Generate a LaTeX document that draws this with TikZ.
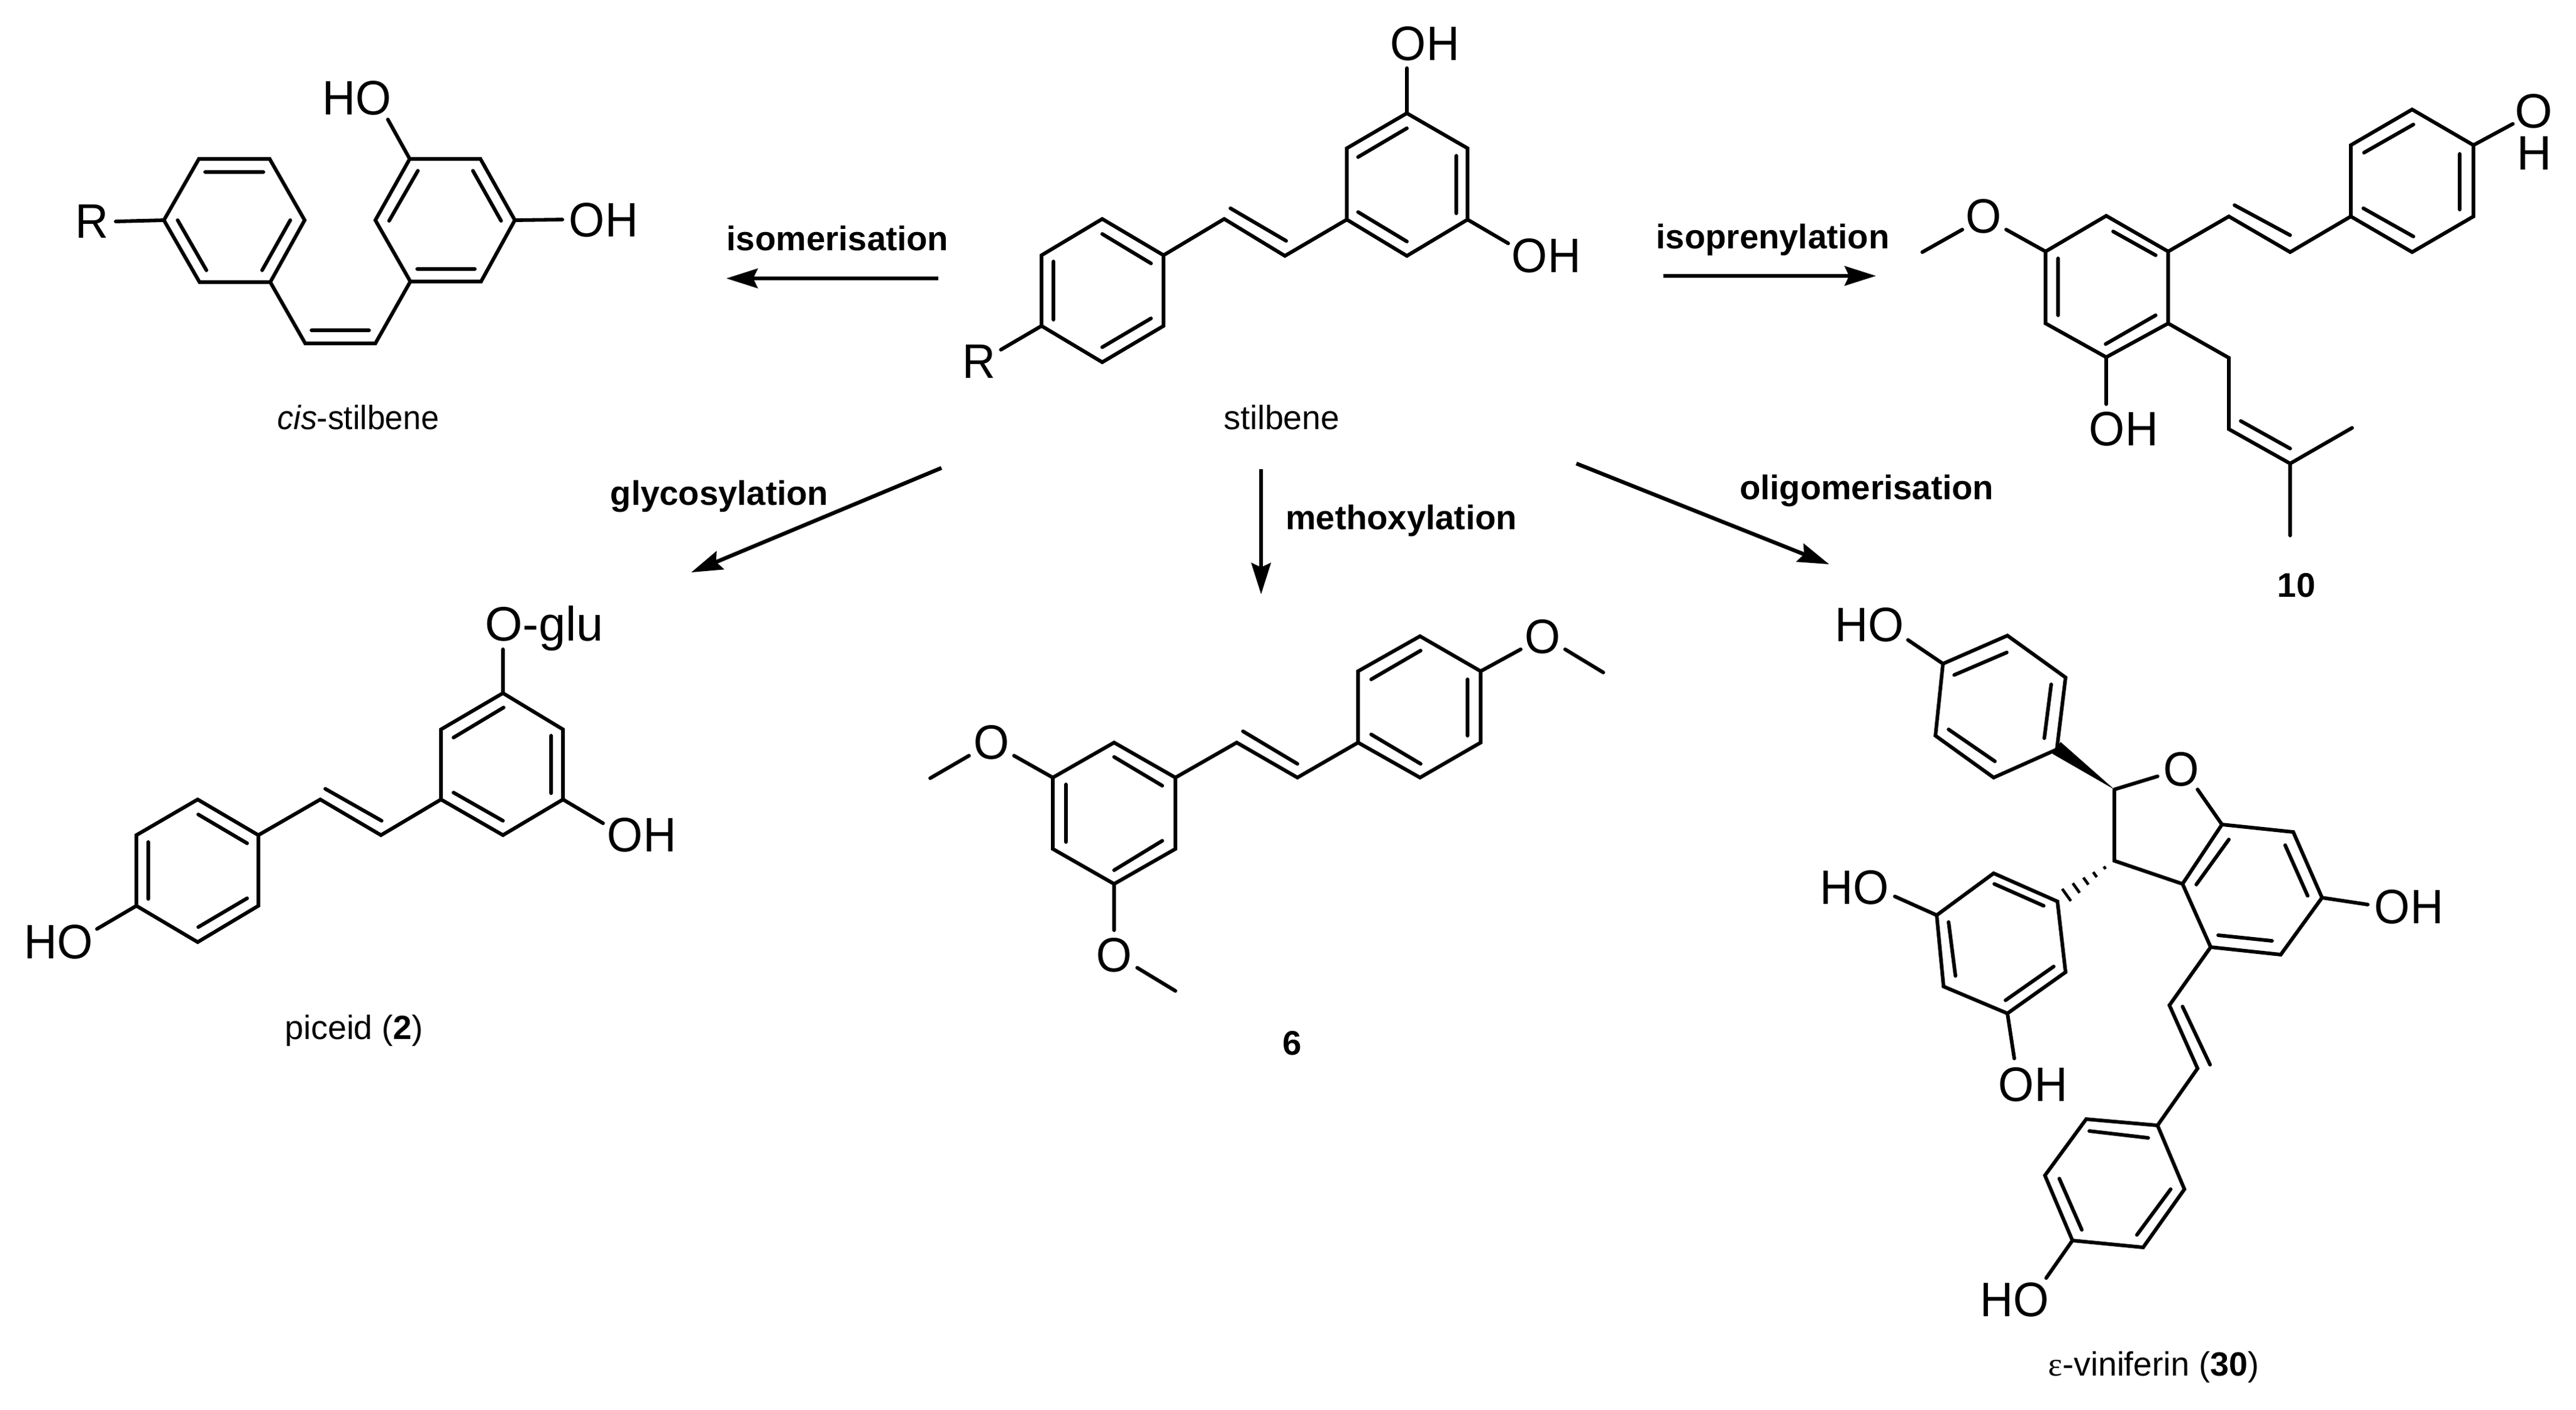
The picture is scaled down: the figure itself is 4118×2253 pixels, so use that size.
\documentclass[tikz,border=0pt]{standalone}
\usepackage{fontspec}
\setmainfont{Liberation Sans}
\newfontfamily\serifgreek{Liberation Serif}
\usetikzlibrary{arrows.meta,calc}
\newcommand{\Atm}[1]{\scalebox{0.95}[1]{#1}}
\tikzset{
  bond/.style={line width=0.058cm,line join=miter,line cap=round},
  atom/.style={inner sep=0pt,font=\fontsize{22}{19}\selectfont},
  caption/.style={inner sep=0pt,font=\fontsize{15.3}{18}\selectfont},
  rxn/.style={inner sep=0pt,font=\fontsize{15.5}{18}\selectfont\bfseries},
  rxnarrow/.style={line width=0.062cm,-{Stealth[length=0.5cm,width=0.31cm,inset=0.07cm]}},
  hashbond/.style={line width=0.045cm}
}
\begin{document}
\begin{tikzpicture}[x=0.01cm,y=-0.01cm]
\useasboundingbox (0,0) rectangle (4118,2253);
% ---- cis-stilbene
\draw[bond] (262,352)--(318,254)--(431,254)--(487,352)--(432,451)--(319,451)--cycle;
\draw[bond] (328,275)--(421,275) (284,352)--(330,432) (464,352)--(419,432);
\draw[bond] (600,352)--(655,254)--(768,254)--(823,352)--(769,450)--(656,450)--cycle;
\draw[bond] (668,273)--(622,353) (756,273)--(801,353) (667,430)--(759,430);
\draw[bond] (432,451)--(488,549)--(600,549)--(656,450) (498,528)--(590,528);
\draw[bond] (262,352)--(185,354) (655,254)--(620,191) (823,352)--(899,351);
\node[atom] (cisR) at (147,354) {\Atm{R}};
\node[atom] (cisHO) at (571,157) {\Atm{HO}};
\node[atom] (cisOH) at (965,352) {\Atm{OH}};
\node[caption] (cisname) at (573,667) {\scalebox{0.96}[1]{\textit{cis}-stilbene}};
% ---- stilbene
\draw[bond] (1762,350)--(1860,408)--(1860,521)--(1762,579)--(1665,521)--(1665,408)--cycle;
\draw[bond] (1762,374)--(1840,421) (1684,418)--(1684,511) (1762,555)--(1840,509);
\draw[bond] (1665,521)--(1600,559);
\draw[bond] (1860,408)--(1957,350)--(2054,409)--(2153,351) (1967,333)--(2056,385);
\draw[bond] (2153,351)--(2153,237)--(2249,181)--(2346,237)--(2346,351)--(2249,409)--cycle;
\draw[bond] (2171,251)--(2249,205) (2328,249)--(2328,341) (2171,339)--(2249,386);
\draw[bond] (2249,181)--(2249,109) (2346,351)--(2411,389);
\node[atom] (stR) at (1565,578) {\Atm{R}};
\node[atom] (stOHa) at (2278,70) {\Atm{OH}};
\node[atom] (stOHb) at (2472,409) {\Atm{OH}};
\node[caption] (stname) at (2049,667) {stilbene};
% ---- compound 10
\draw[bond] (3856,175)--(3954,232)--(3954,346)--(3856,403)--(3758,346)--(3758,232)--cycle;
\draw[bond] (3858,199)--(3779,244) (3932,246)--(3932,335) (3778,333)--(3858,378);
\draw[bond] (3954,232)--(4017,198);
\node[atom,align=center] (tenOH2) at (4051,211) {O\\H};
\draw[bond] (3758,346)--(3661,403)--(3563,346)--(3466,402) (3661,376)--(3572,328);
\draw[bond] (3466,402)--(3367,345)--(3270,402)--(3270,517)--(3367,571)--(3466,517)--cycle;
\draw[bond] (3378,370)--(3446,408) (3290,413)--(3290,504) (3366,550)--(3446,504);
\draw[bond] (3270,402)--(3207,367) (3137,367)--(3073,403);
\node[atom] (tenOMe) at (3171,346) {\Atm{O}};
\draw[bond] (3367,571)--(3367,646);
\node[atom] (tenOH) at (3395,686) {\Atm{OH}};
\draw[bond] (3466,517)--(3563,572)--(3563,686)--(3661,741)--(3760,684) (3661,741)--(3661,856) (3582,673)--(3661,717);
\node[rxn] (tenname) at (3671,936) {10};
% ---- piceid
\draw[bond] (804,1108)--(900,1166)--(900,1278)--(804,1335)--(705,1278)--(705,1166)--cycle;
\draw[bond] (805,1131)--(725,1179) (881,1176)--(881,1268) (725,1267)--(804,1312);
\draw[bond] (804,1108)--(804,1038) (900,1278)--(964,1316);
\node[atom,anchor=base west] (piOglu) at (775,1024) {O-glu};
\node[atom] (piOH) at (1026,1335) {\Atm{OH}};
\draw[bond] (705,1278)--(609,1335)--(512,1278)--(413,1335) (610,1312)--(520,1261);
\draw[bond] (413,1335)--(413,1448)--(316,1506)--(218,1448)--(218,1335)--(316,1278)--cycle;
\draw[bond] (395,1348)--(317,1302) (237,1346)--(237,1437) (395,1436)--(317,1482);
\draw[bond] (218,1448)--(155,1485);
\node[atom] (piHO) at (94,1506) {\Atm{HO}};
\node[caption] (piname) at (566,1648) {piceid (\textbf{2})};
% ---- compound 6
\draw[bond] (1781,1187)--(1879,1243)--(1879,1357)--(1781,1413)--(1683,1357)--(1683,1243)--cycle;
\draw[bond] (1781,1210)--(1858,1256) (1704,1254)--(1704,1346) (1781,1391)--(1858,1344);
\draw[bond] (1683,1243)--(1621,1208) (1549,1208)--(1487,1244);
\node[atom] (sixOa) at (1585,1187) {\Atm{O}};
\draw[bond] (1781,1413)--(1781,1487) (1818,1547)--(1879,1584);
\node[atom] (sixOb) at (1781,1527) {\Atm{O}};
\draw[bond] (1879,1243)--(1977,1187)--(2074,1243)--(2171,1187) (2074,1221)--(1987,1169);
\draw[bond] (2171,1187)--(2171,1073)--(2270,1017)--(2367,1073)--(2367,1187)--(2270,1243)--cycle;
\draw[bond] (2192,1086)--(2271,1040) (2346,1086)--(2346,1176) (2192,1174)--(2271,1221);
\draw[bond] (2367,1073)--(2431,1038) (2502,1038)--(2563,1075);
\node[atom] (sixOc) at (2466,1018) {\Atm{O}};
\node[rxn] (sixname) at (2066,1668) {6};
% ---- epsilon-viniferin
\draw[bond] (3106,1061)--(3209,1016)--(3302,1083)--(3288,1198)--(3187,1243)--(3094,1176)--cycle;
\draw[bond] (3124,1079)--(3208,1043) (3279,1094)--(3268,1180) (3115,1166)--(3189,1217);
\draw[bond] (3106,1061)--(3050,1023);
\node[atom] (viHOa) at (2989,999) {\Atm{HO}};
\fill (3380,1262)--(3294,1186)--(3281,1205)--cycle;
\draw[bond] (3380,1262)--(3449,1241) (3513,1262)--(3552,1318) (3380,1262)--(3380,1376)--(3489,1413);
\node[atom] (viO) at (3487,1230) {\Atm{O}};
\draw[bond] (3552,1318)--(3666,1330)--(3712,1435)--(3646,1526)--(3534,1514)--(3489,1413)--cycle;
\draw[bond] (3511,1414)--(3563,1342) (3653,1351)--(3689,1432) (3546,1495)--(3632,1504);
\draw[bond] (3712,1435)--(3785,1446);
\node[atom] (viOHa) at (3851,1450) {\Atm{OH}};
\coordinate (hashA) at (3380,1376);
\coordinate (hashB) at (3289,1441);
\foreach \t/\h in {0.17/2.5,0.34/5,0.5/7,0.67/9.5,0.84/12}
  \draw[hashbond] ($(hashA)!\t!(hashB)+({\h*0.58},{\h*0.81})$)--($(hashA)!\t!(hashB)-({\h*0.58},{\h*0.81})$);
\draw[bond] (3289,1441)--(3302,1554)--(3209,1620)--(3107,1577)--(3096,1463)--(3187,1396)--cycle;
\draw[bond] (3188,1413)--(3267,1448) (3283,1545)--(3206,1599) (3115,1474)--(3126,1560);
\draw[bond] (3096,1463)--(3029,1433) (3209,1620)--(3220,1692);
\node[atom] (viHOb) at (2965,1419) {\Atm{HO}};
\node[atom] (viOHb) at (3250,1734) {\Atm{OH}};
\draw[bond] (3534,1514)--(3468,1607)--(3513,1708)--(3449,1799) (3489,1609)--(3533,1702);
\draw[bond] (3449,1799)--(3492,1901)--(3426,1994)--(3313,1983)--(3269,1879)--(3335,1789)--cycle;
\draw[bond] (3434,1819)--(3340,1808) (3470,1901)--(3416,1974) (3292,1884)--(3328,1966);
\draw[bond] (3313,1983)--(3271,2043);
\node[atom] (viHOc) at (3221,2078) {\Atm{HO}};
\node[caption] (viname) at (3443,2186) {{\serifgreek ε}-viniferin (\textbf{30})};
% ---- reaction arrows
\coordinate (isoS) at (1500,445); \coordinate (isoE) at (1161,445);
\coordinate (prenS) at (2659,441); \coordinate (prenE) at (2999,441);
\coordinate (glyS) at (1505,748); \coordinate (glyE) at (1105,915);
\coordinate (metS) at (2016,750); \coordinate (metE) at (2016,950);
\coordinate (oliS) at (2520,741); \coordinate (oliE) at (2924,902);
\draw[rxnarrow] (isoS)--(isoE);
\draw[rxnarrow] (prenS)--(prenE);
\draw[rxnarrow] (glyS)--(glyE);
\draw[rxnarrow] (metS)--(metE);
\draw[rxnarrow] (oliS)--(oliE);
\node[rxn] (isoL) at (1339,381) {isomerisation};
\node[rxn] (prenL) at (2834,383) {isoprenylation};
\node[rxn] (glyL) at (1150,794) {glycosylation};
\node[rxn] (metL) at (2240,832) {methoxylation};
\node[rxn] (oliL) at (2984,785) {oligomerisation};
\end{tikzpicture}
\end{document}
